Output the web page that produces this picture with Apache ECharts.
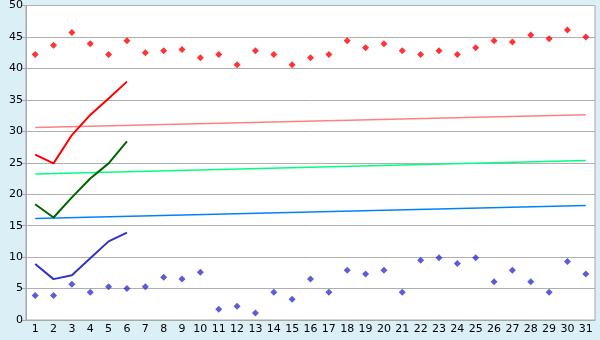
<!DOCTYPE html>
<html><head><meta charset="utf-8">
<script src="https://cdn.jsdelivr.net/npm/echarts@6/dist/echarts.min.js"></script>
<style>html,body{margin:0;padding:0;background:#daeff6}#c{width:600px;height:340px}</style>
</head><body><div id="c"></div>
<script>
const categories = ['1','2','3','4','5','6','7','8','9','10','11','12','13','14','15','16','17','18','19','20','21','22','23','24','25','26','27','28','29','30','31'];
const redPoints = [42.2,43.7,45.7,43.9,42.2,44.4,42.5,42.8,43.0,41.7,42.2,40.6,42.8,42.2,40.6,41.7,42.2,44.4,43.3,43.9,42.8,42.2,42.8,42.2,43.3,44.4,44.2,45.3,44.7,46.1,45.0];
const bluePoints = [3.9,3.9,5.7,4.4,5.3,5.0,5.3,6.8,6.5,7.6,1.7,2.2,1.1,4.4,3.3,6.5,4.4,7.9,7.3,7.9,4.4,9.5,9.9,9.0,9.9,6.1,7.9,6.1,4.4,9.3,7.3];
const redLine = [26.3,24.9,29.4,32.6,35.2,37.9];
const greenLine = [18.4,16.3,19.5,22.5,24.9,28.4];
const blueLine = [8.9,6.5,7.1,9.8,12.5,13.9];
const redTrend = [30.6,32.65];
const greenTrend = [23.2,25.35];
const blueTrend = [16.15,18.2];
const yTicks = [0,5,10,15,20,25,30,35,40,45,50];

function trend(ends){
  const a = categories.map(()=>null);
  a[0]=ends[0]; a[a.length-1]=ends[1];
  return a;
}
const chart = echarts.init(document.getElementById('c'));
const font = 'DejaVu Sans';
chart.setOption({
  backgroundColor:'#daeff6',
  animation:false,
  grid:{left:26,right:5,top:5,bottom:20,show:true,backgroundColor:'#ffffff',borderColor:'#a8a8a8',borderWidth:1},
  xAxis:{type:'category',data:categories,boundaryGap:true,
    axisLine:{lineStyle:{color:'#a8a8a8',width:1}},
    axisTick:{alignWithLabel:true,length:5,lineStyle:{color:'#a8a8a8'}},
    axisLabel:{color:'#000',fontFamily:font,fontSize:11,margin:4,interval:0},
    splitLine:{show:false}},
  yAxis:{type:'value',min:yTicks[0],max:yTicks[yTicks.length-1],interval:5,
    axisLine:{show:true,lineStyle:{color:'#a8a8a8',width:1}},
    axisTick:{show:true,length:5,lineStyle:{color:'#a8a8a8'}},
    axisLabel:{color:'#000',fontFamily:font,fontSize:11,margin:3},
    splitLine:{lineStyle:{color:'#b0b0b0',width:1}}},
  series:[
    {type:'line',data:trend(redTrend),connectNulls:true,showSymbol:false,symbol:'none',lineStyle:{color:'#ff8080',width:1.5}},
    {type:'line',data:trend(greenTrend),connectNulls:true,showSymbol:false,symbol:'none',lineStyle:{color:'#00ff80',width:1.5}},
    {type:'line',data:trend(blueTrend),connectNulls:true,showSymbol:false,symbol:'none',lineStyle:{color:'#0080ff',width:1.5}},
    {type:'line',data:redLine,symbol:'none',lineStyle:{color:'#ff0000',width:2}},
    {type:'line',data:greenLine,symbol:'none',lineStyle:{color:'#006400',width:2}},
    {type:'line',data:blueLine,symbol:'none',lineStyle:{color:'#3333cc',width:2}},
    {type:'scatter',data:redPoints,symbol:'diamond',symbolSize:7,itemStyle:{color:'#ff0000'}},
    {type:'scatter',data:bluePoints,symbol:'diamond',symbolSize:7,itemStyle:{color:'#3333cc'}}
  ]
});
</script></body></html>
